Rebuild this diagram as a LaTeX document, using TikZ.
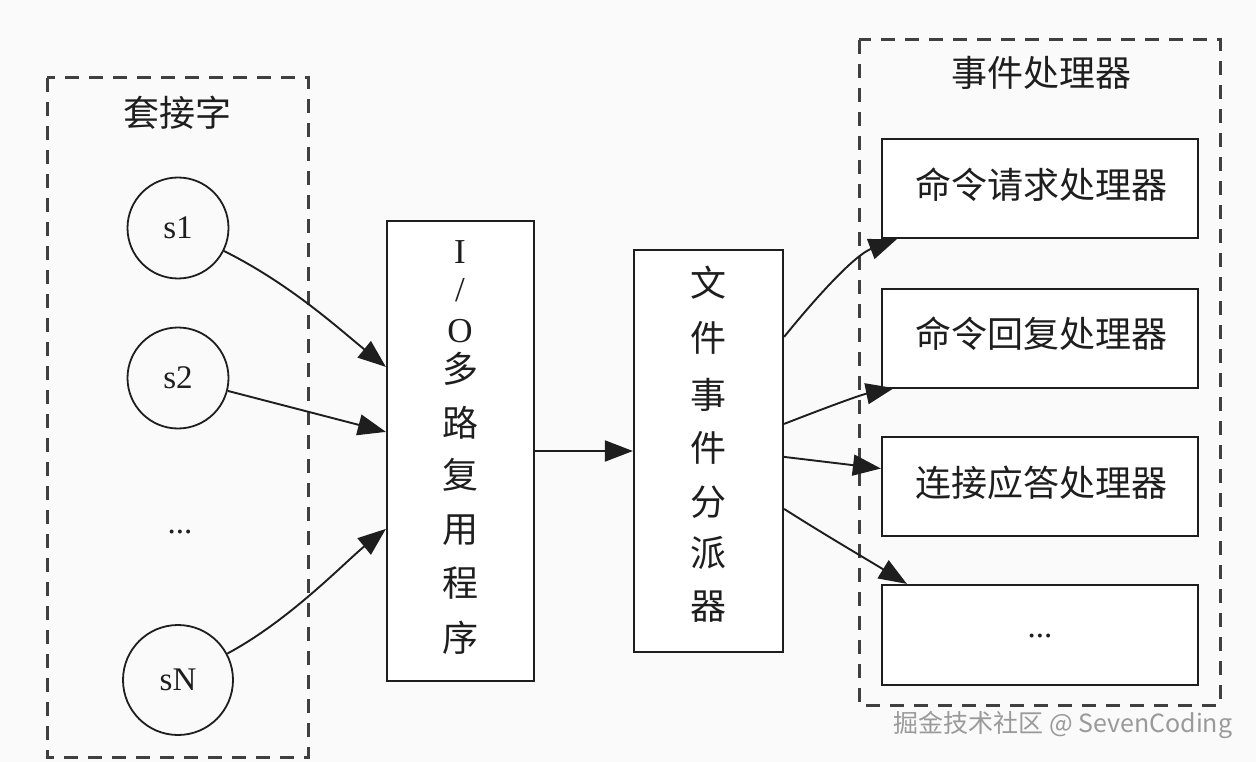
\documentclass[tikz,border=0pt]{standalone}
\usepackage{fontspec}
\setmainfont{Liberation Serif}
\newfontfamily\cjk{Noto Sans CJK SC}
\usetikzlibrary{arrows.meta,calc}
\definecolor{bgc}{HTML}{FAFAFA}
\definecolor{ink}{HTML}{1E1E1E}
\definecolor{wm}{HTML}{9A9A9A}
\begin{document}
\begin{tikzpicture}[x=1pt,y=-1pt,
  cjkt/.style={inner sep=0pt, text=ink, font=\cjk\fontsize{36}{36}\selectfont},
  latt/.style={inner sep=0pt, text=ink, font=\fontsize{35}{35}\selectfont},
  sock/.style={circle, draw=ink, line width=1.8pt, inner sep=0pt, text=ink,
    font=\fontsize{33}{33}\selectfont},
  boxn/.style={rectangle, draw=ink, line width=2.2pt, fill=white, inner sep=0pt},
  cluster/.style={draw=ink!85, line width=3pt, dash pattern=on 14pt off 10pt},
  conn/.style={draw=ink, line width=1.9pt, -{Triangle[length=28pt,width=21pt]}}
]
\useasboundingbox (0,0) rectangle (1256,762);
\fill[bgc] (0,0) rectangle (1256,762);

% clusters
\draw[cluster] (47,78) rectangle (308,757);
\draw[cluster] (859,40) rectangle (1220,705);
\node[cjkt] (socklbl) at (177,113) {套接字};
\node[cjkt] (hdllbl) at (1041,73) {事件处理器};

% sockets
\node[sock, minimum size=101pt] (s1) at (178,228) {s1};
\node[sock, minimum size=101pt] (s2) at (178,378) {s2};
\node[latt, font=\fontsize{33}{33}\selectfont] (sdots) at (180,532) {...};
\node[sock, minimum size=110pt] (sN) at (178,680) {sN};

% IO multiplexer
\node[boxn, minimum width=147pt, minimum height=460pt] (io) at (460.5,451) {};
\node[latt] (io1) at (460,252) {I};
\node[latt] (io2) at (460,290) {/};
\node[latt] (io3) at (460,331) {O};
\node[cjkt] (io4) at (460,369) {多};
\node[cjkt] (io5) at (460,423) {路};
\node[cjkt] (io6) at (460,475) {复};
\node[cjkt] (io7) at (460,530) {用};
\node[cjkt] (io8) at (460,583) {程};
\node[cjkt] (io9) at (460,638) {序};

% dispatcher
\node[boxn, minimum width=149pt, minimum height=402pt] (disp) at (708.5,451) {};
\node[cjkt] (d1) at (708,283) {文};
\node[cjkt] (d2) at (708,338) {件};
\node[cjkt] (d3) at (708,395) {事};
\node[cjkt] (d4) at (708,448) {件};
\node[cjkt] (d5) at (708,502) {分};
\node[cjkt] (d6) at (708,553) {派};
\node[cjkt] (d7) at (708,607) {器};

% handlers
\node[boxn, minimum width=316pt, minimum height=99pt] (h1) at (1040,188.5) {};
\node[boxn, minimum width=316pt, minimum height=99pt] (h2) at (1040,338.5) {};
\node[boxn, minimum width=316pt, minimum height=99pt] (h3) at (1040,486.5) {};
\node[boxn, minimum width=316pt, minimum height=100pt] (h4) at (1040,635) {};
\node[cjkt] (t1) at (1041,185) {命令请求处理器};
\node[cjkt] (t2) at (1041,334) {命令回复处理器};
\node[cjkt] (t3) at (1041,483) {连接应答处理器};
\node[latt, font=\fontsize{33}{33}\selectfont] (t4) at (1040,636) {...};

% anchor points on box edges
\coordinate (ioA) at ($(io.north west)+(0,147)$);
\coordinate (ioB) at ($(io.north west)+(0,212)$);
\coordinate (ioC) at ($(io.north west)+(0,309)$);
\coordinate (dA) at ($(disp.north east)+(0,88)$);
\coordinate (dB) at ($(disp.north east)+(0,175)$);
\coordinate (dC) at ($(disp.north east)+(0,208)$);
\coordinate (dD) at ($(disp.north east)+(0,260)$);
\coordinate (hA) at ($(h1.south west)+(16,0)$);
\coordinate (hB) at ($(h2.south west)+(13,-1)$);
\coordinate (hC) at ($(h3.west)+(0,-18)$);
\coordinate (hD) at ($(h4.north west)+(26,0)$);

% connectors
\draw[conn] (s1) .. controls (290,284) and (338,328) .. (ioA);
\draw[conn] (s2) -- (ioB);
\draw[conn] (sN) .. controls (290,620) and (345,562) .. (ioC);
\draw[conn] (io.east) -- (disp.west);
\draw[conn] (dA) .. controls (818,295) and (855,255) .. (hA);
\draw[conn] (dB) .. controls (825,408) and (860,395) .. (hB);
\draw[conn] (dC) -- (hC);
\draw[conn] (dD) .. controls (825,535) and (868,560) .. (hD);

% watermark
\node[inner sep=0pt, text=wm, font=\cjk\fontsize{25}{25}\selectfont] (wmk) at (1063,725) {掘金技术社区 @ SevenCoding};
\end{tikzpicture}
\end{document}
